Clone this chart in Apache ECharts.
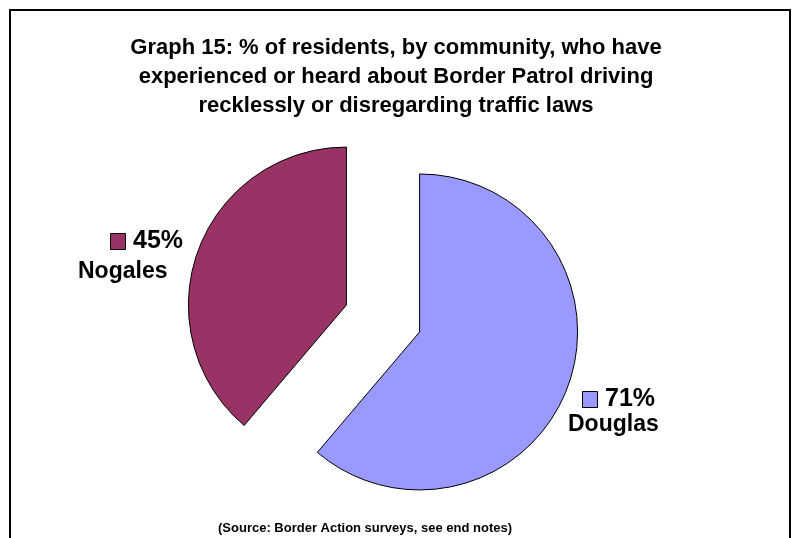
<!DOCTYPE html>
<html><head><meta charset="utf-8">
<script src="https://cdn.jsdelivr.net/npm/echarts@6/dist/echarts.min.js"></script>
<style>html,body{margin:0;padding:0;background:#fff}#c{width:792px;height:538px}</style>
</head><body><div id="c"></div>
<script>
const categories = ['Douglas', 'Nogales'];
const values = [71, 45];
const valueLabels = ['71%', '45%'];
const colors = ['#9999FF', '#993366'];
// label layout (positions only)
const keyPos = [[582, 391], [110, 233]];
const valuePos = [[605, 399], [133, 241]];
const namePos = [[568, 425], [78, 272]];

const FONT = '"Liberation Sans", Arial, sans-serif';
const chart = echarts.init(document.getElementById('c'), null, {renderer: 'canvas'});
const data = categories.map((name, i) => ({
  name: name,
  value: values[i],
  selected: true,
  itemStyle: {color: colors[i]}
}));

const labelGraphics = [];
categories.forEach((name, i) => {
  labelGraphics.push({type: 'rect', silent: true, shape: {x: keyPos[i][0] + 0.5, y: keyPos[i][1] + 0.5, width: 15, height: 16},
    style: {fill: colors[i], stroke: '#000', lineWidth: 1}});
  labelGraphics.push({type: 'text', silent: true, x: valuePos[i][0], y: valuePos[i][1],
    style: {text: valueLabels[i], font: 'bold 25px ' + FONT, fill: '#000', align: 'left', verticalAlign: 'middle'}});
  labelGraphics.push({type: 'text', silent: true, x: namePos[i][0], y: namePos[i][1],
    style: {text: name, font: 'bold 23px ' + FONT, fill: '#000', align: 'left', verticalAlign: 'middle'}});
});

chart.setOption({
  animation: false,
  backgroundColor: '#fff',
  title: {
    text: 'Graph 15: % of residents, by community, who have\nexperienced or heard about Border Patrol driving\nrecklessly or disregarding traffic laws',
    left: 391, top: 28, textAlign: 'center',
    textStyle: {fontFamily: FONT, fontWeight: 'bold', fontSize: 22, lineHeight: 29, color: '#000'}
  },
  graphic: [
    {type: 'rect', silent: true, shape: {x: 10, y: 10, width: 780, height: 600}, style: {fill: null, stroke: '#000', lineWidth: 2}},
    {type: 'text', silent: true, x: 218, y: 528, style: {text: '(Source: Border Action surveys, see end notes)', font: 'bold 13px ' + FONT, fill: '#000', align: 'left', verticalAlign: 'middle'}}
  ].concat(labelGraphics),
  series: [{
    type: 'pie',
    center: [383, 318.5],
    radius: 158,
    startAngle: 90,
    clockwise: true,
    selectedMode: 'multiple',
    selectedOffset: 39,
    itemStyle: {borderColor: '#000', borderWidth: 1},
    emphasis: {disabled: true},
    select: {itemStyle: {borderColor: '#000', borderWidth: 1}},
    label: {show: false},
    labelLine: {show: false},
    data: data
  }]
});
</script></body></html>
